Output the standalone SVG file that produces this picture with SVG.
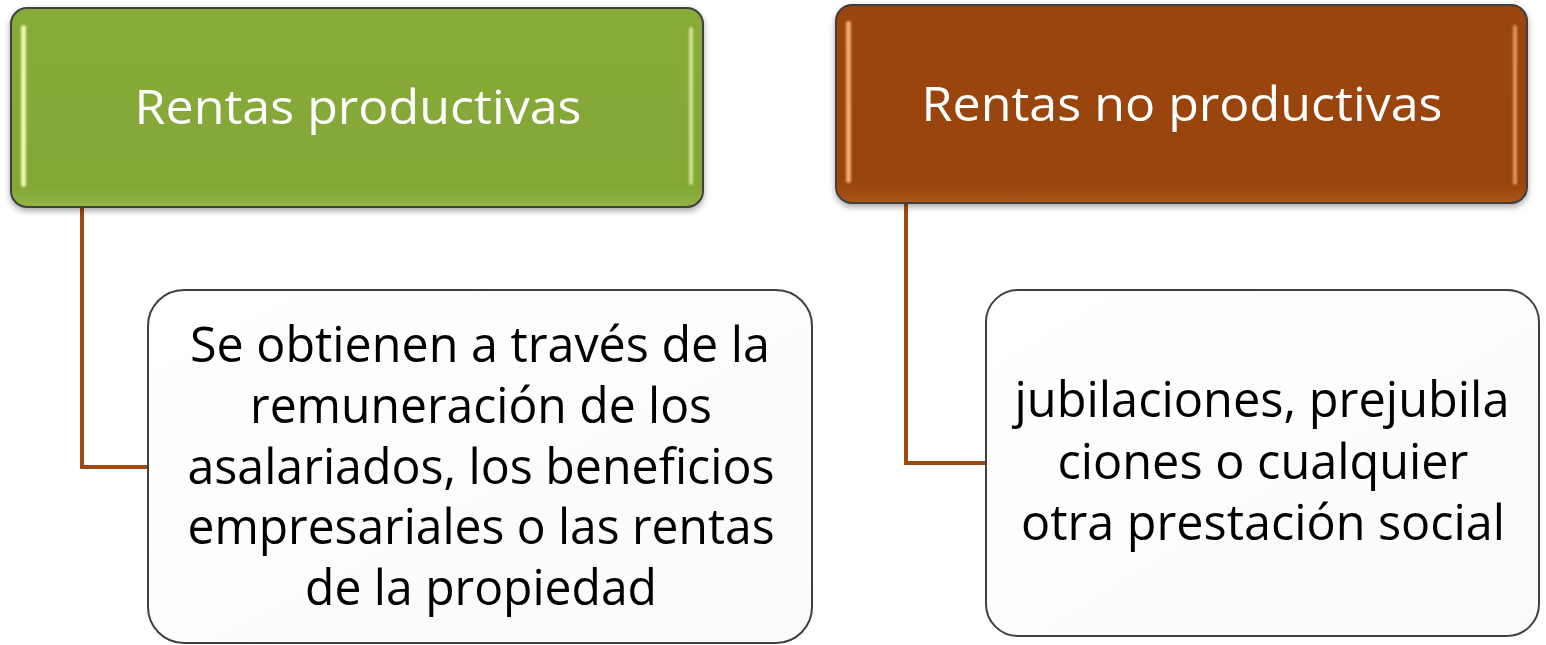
<svg xmlns="http://www.w3.org/2000/svg" width="1546" height="645" viewBox="0 0 1546 645">
<defs>
<filter id="shadow" x="-5%" y="-5%" width="110%" height="120%">
<feGaussianBlur in="SourceAlpha" stdDeviation="3"/>
<feOffset dx="0" dy="3" result="b"/>
<feComponentTransfer><feFuncA type="linear" slope="0.35"/></feComponentTransfer>
<feMerge><feMergeNode/><feMergeNode in="SourceGraphic"/></feMerge>
</filter>
<filter id="soft" x="-200%" y="-10%" width="500%" height="120%">
<feGaussianBlur stdDeviation="0.8"/>
</filter>
<linearGradient id="gGreen" x1="0" y1="0" x2="0" y2="1">
<stop offset="0" stop-color="#88AA39"/>
<stop offset="0.9" stop-color="#85A736"/>
<stop offset="1" stop-color="#92B446"/>
</linearGradient>
<linearGradient id="gBrown" x1="0" y1="0" x2="0" y2="1">
<stop offset="0" stop-color="#9A4509"/>
<stop offset="0.9" stop-color="#984407"/>
<stop offset="1" stop-color="#A9561B"/>
</linearGradient>
<linearGradient id="gWhite" x1="0" y1="0" x2="1" y2="1">
<stop offset="0" stop-color="#FFFFFF"/>
<stop offset="1" stop-color="#FAFAFA"/>
</linearGradient>
</defs>
<style>
.top{stroke:#3F3F3F;stroke-width:2}
.sub{fill:url(#gWhite);stroke:#404040;stroke-width:2}
.conn{fill:none;stroke:#A04A10;stroke-width:4}
.title{font-family:"Open Sans","Noto Sans","Liberation Sans",sans-serif;font-size:47px;fill:#FFFFFF;text-anchor:middle}
.body{font-family:"Open Sans","Noto Sans","Liberation Sans",sans-serif;font-size:49px;fill:#000000;text-anchor:middle}
.hlG{fill:#E8F7AE}
.hlB{fill:#F2AA6C}
</style>

<g id="connectors">
<polyline class="conn" points="82,207 82,467 149,467"/>
<polyline class="conn" points="906,203 906,463 987,463"/>
</g>

<g id="node-productivas">
<rect class="top" x="11" y="8" width="692" height="199" rx="16" fill="url(#gGreen)" filter="url(#shadow)"/>
<rect class="hlG" x="21" y="25" width="5" height="162" rx="2.5" filter="url(#soft)"/>
<rect class="hlG" x="689" y="27" width="4" height="158" rx="2" filter="url(#soft)" opacity="0.75"/>
<text class="title" x="358" y="124" textLength="447" lengthAdjust="spacingAndGlyphs">Rentas productivas</text>
</g>

<g id="node-no-productivas">
<rect class="top" x="836" y="5" width="691" height="198" rx="16" fill="url(#gBrown)" filter="url(#shadow)"/>
<rect class="hlB" x="846" y="21" width="5" height="162" rx="2.5" filter="url(#soft)"/>
<rect class="hlB" x="1513" y="25" width="4" height="160" rx="2" filter="url(#soft)" opacity="0.8"/>
<text class="title" x="1182" y="121" textLength="521" lengthAdjust="spacingAndGlyphs">Rentas no productivas</text>
</g>

<g id="node-productivas-desc">
<rect class="sub" x="148" y="290" width="664" height="353" rx="36"/>
<text class="body" x="480" y="362" textLength="580" lengthAdjust="spacingAndGlyphs">Se obtienen a través de la</text>
<text class="body" x="481" y="423" textLength="462" lengthAdjust="spacingAndGlyphs">remuneración de los</text>
<text class="body" x="481" y="484" textLength="587" lengthAdjust="spacingAndGlyphs">asalariados, los beneficios</text>
<text class="body" x="481" y="544" textLength="587" lengthAdjust="spacingAndGlyphs">empresariales o las rentas</text>
<text class="body" x="481" y="605" textLength="352" lengthAdjust="spacingAndGlyphs">de la propiedad</text>
</g>

<g id="node-no-productivas-desc">
<rect class="sub" x="986" y="290" width="553" height="346" rx="32"/>
<text class="body" x="1262" y="417" textLength="495" lengthAdjust="spacingAndGlyphs">jubilaciones, prejubila</text>
<text class="body" x="1263" y="479" textLength="411" lengthAdjust="spacingAndGlyphs">ciones o cualquier</text>
<text class="body" x="1263" y="540" textLength="484" lengthAdjust="spacingAndGlyphs">otra prestación social</text>
</g>
</svg>
